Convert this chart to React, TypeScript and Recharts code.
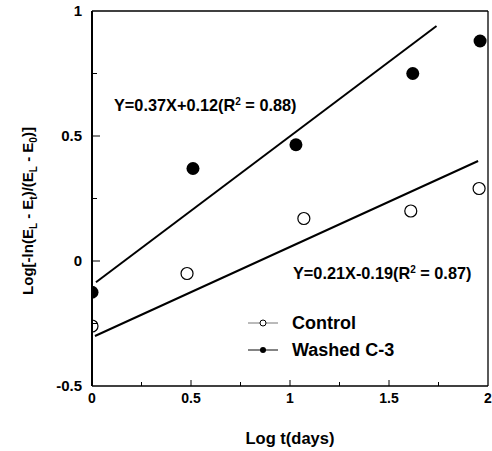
import React from 'react';
import { ScatterChart, Scatter, XAxis, YAxis, ReferenceLine, ReferenceDot, Legend } from 'recharts';

const FONT = '"Liberation Sans", Arial, Helvetica, sans-serif';

// Tick values
const xTicks = [0, 0.25, 0.5, 0.75, 1, 1.25, 1.5, 1.75, 2];
const yTicks = [-0.5, -0.25, 0, 0.25, 0.5, 0.75, 1];

// Series (log t in days, transformed modulus)
const controlX = [0, 0.48, 1.07, 1.61, 1.955];
const controlY = [-0.26, -0.05, 0.17, 0.2, 0.29];
const washedX = [0, 0.51, 1.03, 1.62, 1.96];
const washedY = [-0.125, 0.37, 0.465, 0.75, 0.88];

// Regression line end points as drawn
const washedLineX = [0.02, 1.74];
const washedLineY = [-0.085, 0.94];
const controlLineX = [0.015, 1.95];
const controlLineY = [-0.3, 0.4];

// Annotation anchors (data coords) and texts
const eqWashed = { x: 0.111, y: 0.624, a: 'Y=0.37X+0.12(R', b: ' = 0.88)' };
const eqControl = { x: 1.015, y: -0.048, a: 'Y=0.21X-0.19(R', b: ' = 0.87)' };

const seriesNames = ['Control', 'Washed C-3'];

const controlData = controlX.map((x, i) => ({ x, y: controlY[i] }));
const washedData = washedX.map((x, i) => ({ x, y: washedY[i] }));

const isMajor = (v: number) => Math.abs(v * 2 - Math.round(v * 2)) < 1e-6;
const fmt = (v: number) => String(v);

const XTick = (props: any) => {
  const { x, y, payload } = props;
  const v = payload.value;
  const major = isMajor(v);
  return (
    <g>
      {v > 0 && v < 2 && (
        <line x1={x} x2={x} y1={y} y2={y - (major ? 6 : 4)} stroke="#000" strokeWidth={1} />
      )}
      {major && (
        <text x={x} y={y + 17} textAnchor="middle" fontSize={14} fontWeight="bold" fontFamily={FONT} fill="#000">
          {fmt(v)}
        </text>
      )}
    </g>
  );
};

const YTick = (props: any) => {
  const { x, y, payload } = props;
  const v = payload.value;
  const major = isMajor(v);
  return (
    <g>
      {v > -0.5 && v < 1 && (
        <line x1={x} x2={x + (major ? 8 : 5)} y1={y} y2={y} stroke="#000" strokeWidth={1} />
      )}
      {major && (
        <text x={x - 10} y={y} dy="0.35em" textAnchor="end" fontSize={15} fontWeight="bold" fontFamily={FONT} fill="#000">
          {fmt(v)}
        </text>
      )}
    </g>
  );
};

const EqText = (eq: { a: string; b: string }) => (p: any) => (
  <text x={p.cx} y={p.cy} dy="0.35em" fontSize={16.3} fontWeight="bold" fontFamily={FONT} fill="#000">
    {eq.a}
    <tspan fontSize={10} dy={-6}>2</tspan>
    <tspan dy={6}>{eq.b}</tspan>
  </text>
);

const LegendContent = () => (
  <svg width={200} height={56} style={{ display: 'block', overflow: 'visible' }}>
    <line x1={8} x2={38} y1={15} y2={15} stroke="#777" strokeWidth={1} />
    <circle cx={23} cy={15} r={3} fill="#fff" stroke="#000" strokeWidth={1} />
    <text x={52} y={15} dy="0.35em" fontSize={18} fontWeight="bold" fontFamily={FONT} fill="#000">
      {seriesNames[0]}
    </text>
    <line x1={8} x2={38} y1={42} y2={42} stroke="#333" strokeWidth={1.2} />
    <circle cx={23} cy={42} r={3} fill="#000" />
    <text x={52} y={42} dy="0.35em" fontSize={18} fontWeight="bold" fontFamily={FONT} fill="#000">
      {seriesNames[1]}
    </text>
  </svg>
);

const XLabel = (props: any) => {
  const vb = props.viewBox || {};
  return (
    <text x={vb.x + vb.width / 2} y={444} textAnchor="middle" fontSize={16.5} fontWeight="bold" fontFamily={FONT} fill="#000">
      Log t(days)
    </text>
  );
};

const YLabel = () => {
  const cx = 33;
  const cy = 211;
  return (
    <text x={cx} y={cy} textAnchor="middle" transform={`rotate(-90 ${cx} ${cy})`} fontSize={15} fontWeight="bold" fontFamily={FONT} fill="#000">
      Log[-ln(E
      <tspan fontSize={10} dy={4}>L</tspan>
      <tspan dy={-4}> - E</tspan>
      <tspan fontSize={10} dy={4}>t</tspan>
      <tspan dy={-4}>)/(E</tspan>
      <tspan fontSize={10} dy={4}>L</tspan>
      <tspan dy={-4}> - E</tspan>
      <tspan fontSize={10} dy={4}>0</tspan>
      <tspan dy={-4}>)]</tspan>
    </text>
  );
};

const Filled = (p: any) => <circle cx={p.cx} cy={p.cy} r={6.5} fill="#000" />;
const Open = (p: any) => <circle cx={p.cx} cy={p.cy} r={6} fill="none" stroke="#000" strokeWidth={1.2} />;

export default function App() {
  return (
    <div style={{ position: 'absolute', left: 0, top: 0, width: 492, height: 451, background: '#fff' }}>
      <ScatterChart width={492} height={451} margin={{ top: 11, right: 4, left: 0, bottom: 0 }}>
        <XAxis
          type="number"
          dataKey="x"
          domain={[0, 2]}
          ticks={xTicks}
          tick={<XTick />}
          tickLine={false}
          tickSize={0}
          tickMargin={0}
          interval={0}
          axisLine={{ stroke: '#000', strokeWidth: 1.5 }}
          height={65}
          allowDataOverflow
          label={<XLabel />}
        />
        <YAxis
          type="number"
          dataKey="y"
          domain={[-0.5, 1]}
          ticks={yTicks}
          tick={<YTick />}
          tickLine={false}
          tickSize={0}
          tickMargin={0}
          interval={0}
          axisLine={{ stroke: '#000', strokeWidth: 2 }}
          width={92}
          allowDataOverflow
          label={<YLabel />}
        />
        <ReferenceLine y={1} stroke="#000" strokeWidth={1.3} />
        <ReferenceLine x={2} stroke="#000" strokeWidth={1.3} />
        <ReferenceLine
          segment={[{ x: washedLineX[0], y: washedLineY[0] }, { x: washedLineX[1], y: washedLineY[1] }]}
          stroke="#000"
          strokeWidth={2}
        />
        <ReferenceLine
          segment={[{ x: controlLineX[0], y: controlLineY[0] }, { x: controlLineX[1], y: controlLineY[1] }]}
          stroke="#000"
          strokeWidth={2}
        />
        <ReferenceDot x={eqWashed.x} y={eqWashed.y} r={0} shape={EqText(eqWashed)} />
        <ReferenceDot x={eqControl.x} y={eqControl.y} r={0} shape={EqText(eqControl)} />
        <Scatter name={seriesNames[0]} data={controlData} shape={<Open />} isAnimationActive={false} />
        <Scatter name={seriesNames[1]} data={washedData} shape={<Filled />} isAnimationActive={false} />
        <Legend
          layout="vertical"
          align="center"
          verticalAlign="middle"
          content={<LegendContent />}
          wrapperStyle={{ left: 240, top: 308, width: 200 }}
        />
      </ScatterChart>
    </div>
  );
}
